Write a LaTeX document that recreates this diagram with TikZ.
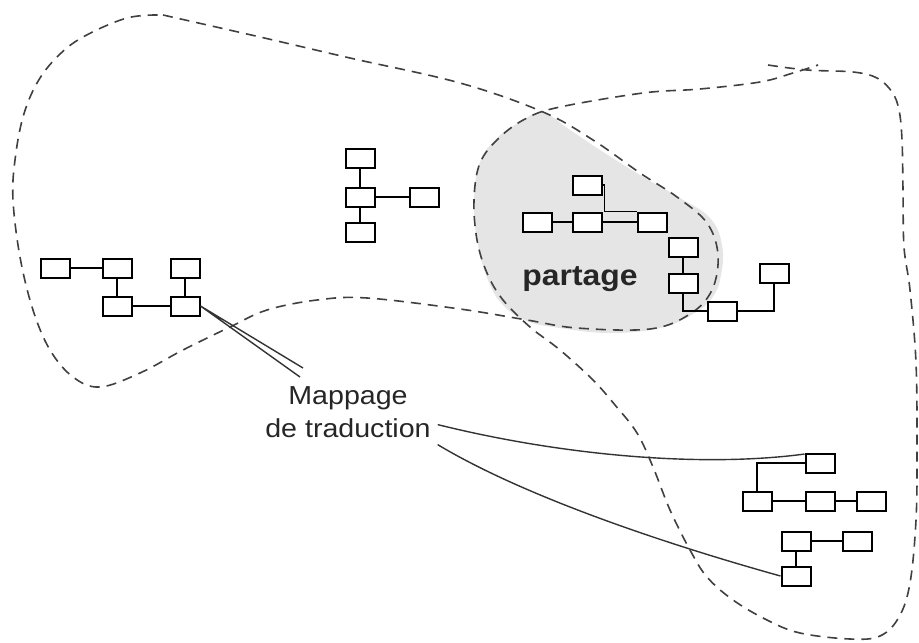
\documentclass[tikz,border=0pt]{standalone}
\usepackage{fontspec}
\setmainfont{Liberation Sans}[FakeStretch=1.1]
\usetikzlibrary{calc}

\tikzset{
  box/.style={draw, fill=white, line width=1pt, minimum width=14.5pt, minimum height=9.5pt, inner sep=0pt},
  link/.style={line width=0.8pt},
  zone/.style={dash pattern=on 5pt off 3.5pt, line width=0.8pt, black!75},
  map/.style={line width=0.7pt, black!80}
}

\begin{document}
\begin{tikzpicture}[x=0.5pt, y=-0.5pt]
  \useasboundingbox (0,0) rectangle (919,642);

  % Shared part (grey blob)
  \fill[gray!20] plot[smooth cycle, tension=0.7] coordinates {
    (543,113) (570,130) (600,150) (640,175) (680,198) (710,218) (722,245)
    (721,275) (712,298) (693,314) (660,328) (610,333) (560,328) (527,321)
    (503,305) (488,280) (478,245) (474,205) (479,165) (495,140) (520,122)};

  % Left zone
  \draw[zone] plot[smooth, tension=0.6] coordinates {
    (163,15) (260,37) (350,58) (460,83) (543,112) (593,140) (640,173)
    (677,197) (707,223) (718,255) (712,290) (690,314) (650,329) (577,328)
    (527,320) (460,309) (367,298) (317,300) (267,310) (230,327) (183,350)
    (140,373) (100,387) (73,377) (50,350) (33,310) (20,257) (13,200)
    (15,160) (23,117) (37,83) (57,57) (83,37) (127,18) (163,15)};

  % Right zone
  \draw[zone] plot[smooth, tension=0.6] coordinates {
    (768,65) (807,70) (853,72) (877,78) (892,92) (899,110) (902,140)
    (903,190) (904,247) (910,290) (916,363) (917,450) (916,520) (910,583)
    (899,617) (880,636) (850,639) (800,633) (767,620) (733,600) (707,577)
    (690,550) (670,510) (653,467) (637,433) (615,405) (593,380) (560,350)
    (530,327) (503,300) (487,273) (477,240) (474,200) (480,163) (500,137)
    (527,118) (560,107) (643,93) (700,89) (760,82) (793,73) (818,65)};

  % Boxes
  \foreach \n/\x/\y in {l1/55/268, l2/117/268, l3/185/268, l4/117/306, l5/185/306,
                        m1/360/158, m2/360/197, m3/424/197, m4/360/232,
                        s1/587/185, s2/537/222, s3/587/222, s4/652/222,
                        s5/683/247, s6/683/283, s7/722/311, s8/774/273,
                        r1/820/463, r2/757/501, r3/820/501, r4/871/501,
                        r5/796/541, r6/857/541, r7/796/576}
    \node[box] (\n) at (\x,\y) {};

  % Links inside each group
  \draw[link] (l1) -- (l2) (l2) -- (l4) (l3) -- (l5) (l4) -- (l5);
  \draw[link] (m1) -- (m2) (m2) -- (m4) (m2) -- (m3);
  \draw[link] (s2) -- (s3) (s3) -- (s4) (s5) -- (s6);
  \draw[link] (s1.east) -| ($(s3.north east)+(2,0)$) -- (s4.north west);
  \draw[link] (s6.south) |- (s7.west);
  \draw[link] (s7.east) -| (s8.south);
  \draw[link] (r1.west) -| (r2.north);
  \draw[link] (r2) -- (r3) (r3) -- (r4);
  \draw[link] (r5) -- (r6) (r5) -- (r7);

  % Labels
  \node[font=\fontsize{14.5pt}{17pt}\selectfont\bfseries, text=black!85, anchor=base] (share) at (580,285) {partage};
  \node[font=\fontsize{13pt}{16.5pt}\selectfont, text=black!85, align=center] (lbl) at (348,412) {Mappage\\de traduction};

  % Mapping lines
  \coordinate (e1) at (303,368);
  \coordinate (e2) at (300,377);
  \draw[map] (l5.east) -- (e1) (l5.east) -- (e2);
  \draw[map] (lbl.-8) .. controls (560,455) and (700,468) .. (r1.150);
  \draw[map] (lbl.-20) .. controls (530,500) and (680,548) .. (r7.west);
\end{tikzpicture}
\end{document}
